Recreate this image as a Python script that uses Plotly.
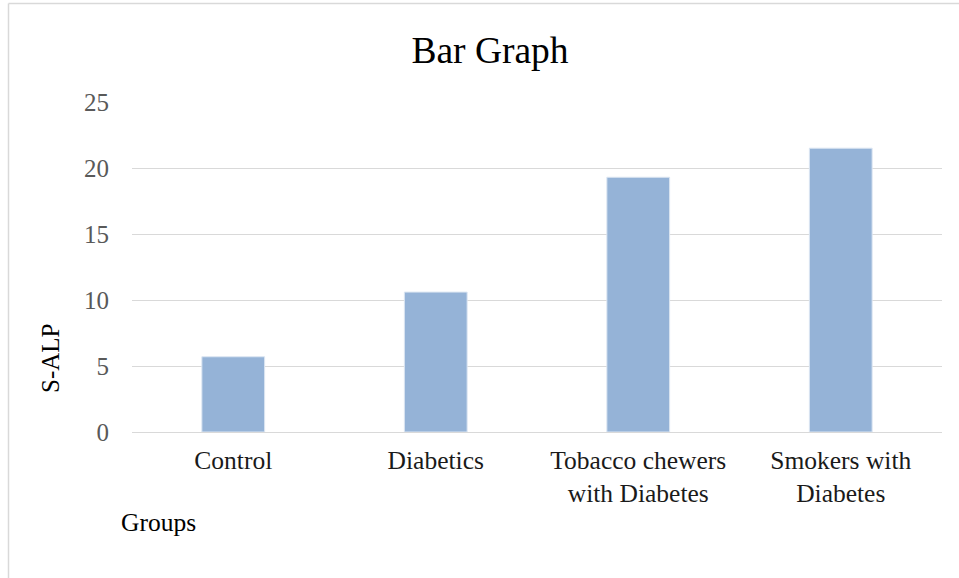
import plotly.graph_objects as go

categories = ["Control", "Diabetics", "Tobacco chewers<br>with Diabetes", "Smokers with<br>Diabetes"]
values = [5.7, 10.6, 19.3, 21.5]
y_ticks = [0, 5, 10, 15, 20, 25]

W, H = 959, 578
L, R, T, B = 132, 17, 102, 146
pw, ph = W - L - R, H - T - B

def px2x(p):
    return (p - L) / pw

def py2y(p):
    return 1 - (p - T) / ph

FONT = "Liberation Serif"

fig = go.Figure(go.Bar(
    x=categories, y=values, width=0.31,
    marker=dict(color="#95b3d7", line=dict(color="#dce6f2", width=1)),
))

fig.update_layout(
    width=W, height=H,
    margin=dict(l=L, r=R, t=T, b=B),
    paper_bgcolor="white", plot_bgcolor="white",
    showlegend=False,
    title=dict(text="Bar Graph", x=490 / W, xanchor="center", y=1 - 50 / H, yanchor="middle",
               font=dict(family=FONT, size=37.5, color="#000000")),
    font=dict(family=FONT),
)
fig.update_yaxes(range=[0, 25], tickvals=y_ticks, showgrid=True, gridcolor="#d9d9d9", gridwidth=1,
                 zeroline=True, zerolinecolor="#d9d9d9", zerolinewidth=1, showline=False,
                 tickfont=dict(family=FONT, size=25, color="#595959"), ticks="", ticklabelstandoff=22,
                 fixedrange=True)
fig.update_xaxes(showline=False, showgrid=False, ticks="", tickfont=dict(family=FONT, size=25.5, color="#1a1a1a"),
                 ticklabelstandoff=10, fixedrange=True)

fig.add_annotation(text="S-ALP", xref="paper", yref="paper", x=px2x(50), y=py2y(359), textangle=-90,
                   showarrow=False, xanchor="center", yanchor="middle",
                   font=dict(family=FONT, size=25, color="#000000"))
fig.add_annotation(text="Groups", xref="paper", yref="paper", x=px2x(119), y=py2y(522),
                   showarrow=False, xanchor="left", yanchor="middle",
                   font=dict(family=FONT, size=25.5, color="#000000"))

# chart-area border (left and top edges visible)
fig.add_shape(type="line", xref="paper", yref="paper", x0=px2x(8.5), x1=px2x(8.5), y0=py2y(3.5), y1=py2y(600),
              line=dict(color="#d9d9d9", width=1.5))
fig.add_shape(type="line", xref="paper", yref="paper", x0=px2x(8.5), x1=px2x(1000), y0=py2y(3.5), y1=py2y(3.5),
              line=dict(color="#d9d9d9", width=1.5))

fig.write_html("out.html", config={"displayModeBar": False},
               post_script="document.body.style.margin='0';")
